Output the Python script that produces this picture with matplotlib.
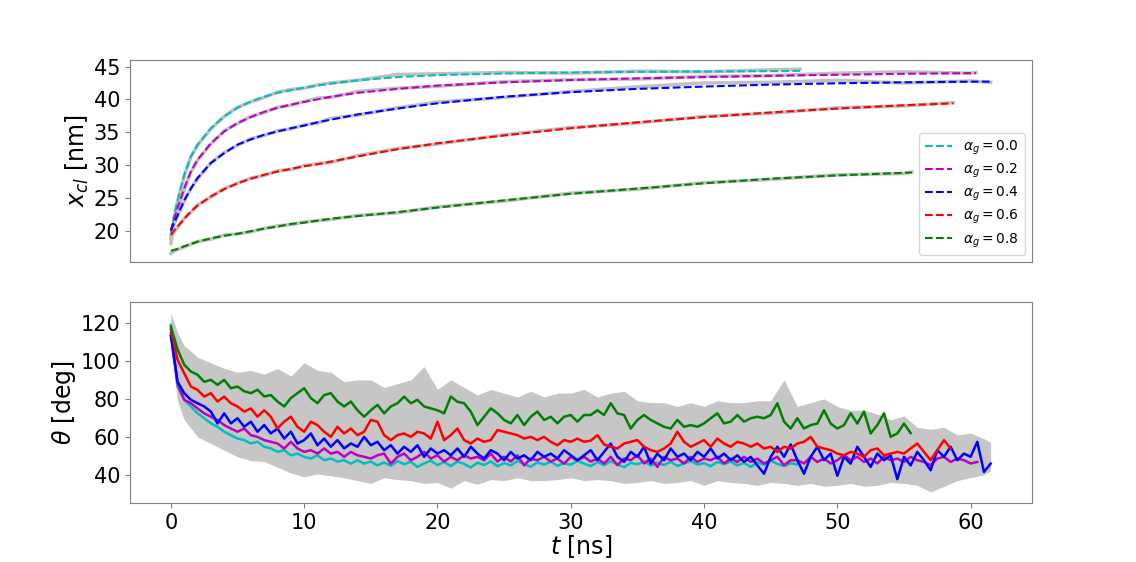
import numpy as np
import matplotlib
matplotlib.use('Agg')
import matplotlib.pyplot as plt

plot_filename = 'out.png'

alphas = ['0.0', '0.2', '0.4', '0.6', '0.8']
colors = ['c', 'm', 'b', 'r', 'g']

# ---- top panel: contact line position x_cl(t) [nm], fits (dashed) and raw (gray)
t_cyan = [0, 0.25, 0.5, 1, 1.5, 2, 3, 4, 5, 6, 7, 8, 9, 10, 11, 12, 14, 17, 20, 25, 30, 35, 40, 45, 47.2]
fit_cyan = [19.6, 22.3, 24.6, 28.5, 31.3, 33.1, 35.6, 37.4, 38.7, 39.7, 40.4, 41.0, 41.4, 41.8, 42.1, 42.4,
            42.9, 43.4, 43.7, 43.95, 44.1, 44.2, 44.25, 44.3, 44.35]
raw_cyan = [18.0, 22.0, 24.4, 28.3, 31.2, 33.0, 35.5, 37.4, 38.8, 39.6, 40.3, 41.1, 41.5, 41.7, 42.2, 42.5,
            42.9, 43.8, 43.9, 44.1, 44.0, 44.3, 44.2, 44.5, 44.6]

t_magenta = [0, 0.25, 0.5, 1, 1.5, 2, 3, 4, 5, 6, 7, 8, 9, 10, 11, 12, 14, 17, 20, 25, 30, 35, 40, 45, 50, 55, 60,
             60.4]
fit_magenta = [20.0, 21.8, 23.4, 26.4, 29.0, 30.8, 33.3, 35.1, 36.4, 37.3, 38.1, 38.7, 39.2, 39.6, 40.0, 40.4,
               41.0, 41.6, 42.1, 42.6, 42.95, 43.2, 43.4, 43.6, 43.75, 43.9, 44.0, 44.0]
raw_magenta = [19.0, 21.5, 23.2, 26.3, 28.9, 30.7, 33.2, 35.2, 36.3, 37.4, 38.0, 38.8, 39.1, 39.7, 40.2, 40.3,
               41.2, 41.7, 42.0, 42.7, 43.0, 43.1, 43.5, 43.6, 44.0, 44.2, 44.0, 44.1]

t_blue = [0, 0.25, 0.5, 1, 1.5, 2, 3, 4, 5, 6, 7, 8, 9, 10, 11, 12, 14, 17, 20, 25, 30, 35, 40, 45, 50, 55, 60,
          61.5]
fit_blue = [20.0, 21.2, 22.3, 24.6, 26.4, 28.0, 30.3, 31.8, 33.1, 33.9, 34.6, 35.1, 35.6, 36.0, 36.5, 36.9,
            37.7, 38.6, 39.4, 40.4, 41.1, 41.6, 41.95, 42.25, 42.45, 42.6, 42.7, 42.7]
raw_blue = [19.3, 21.0, 22.2, 24.5, 26.4, 27.9, 30.3, 31.9, 33.0, 34.0, 34.5, 35.2, 35.5, 36.1, 36.4, 37.1,
            37.6, 38.7, 39.6, 40.3, 41.2, 41.9, 42.5, 42.6, 42.9, 42.5, 42.8, 42.6]

t_red = [0, 0.25, 0.5, 1, 1.5, 2, 3, 4, 5, 6, 7, 8, 9, 10, 11, 12, 14, 17, 20, 25, 30, 35, 40, 45, 50, 55, 58.7]
fit_red = [19.3, 20.0, 20.6, 21.8, 22.9, 23.8, 25.2, 26.3, 27.2, 27.9, 28.5, 29.0, 29.4, 29.8, 30.1, 30.5,
           31.3, 32.4, 33.3, 34.5, 35.6, 36.5, 37.3, 38.0, 38.6, 39.1, 39.4]
raw_red = [18.8, 19.8, 20.5, 21.8, 22.8, 23.9, 25.1, 26.4, 27.2, 28.0, 28.4, 29.1, 29.3, 29.9, 30.2, 30.4,
           31.4, 32.5, 33.2, 34.6, 35.7, 36.4, 37.4, 37.9, 38.7, 39.0, 39.5]

t_green = [0, 0.25, 0.5, 1, 1.5, 2, 3, 4, 5, 6, 7, 8, 9, 10, 11, 12, 14, 17, 20, 25, 30, 35, 40, 45, 50, 55, 55.6]
fit_green = [16.9, 17.05, 17.2, 17.6, 17.95, 18.3, 18.8, 19.2, 19.5, 19.9, 20.3, 20.6, 21.0, 21.2, 21.5, 21.8,
             22.2, 22.8, 23.5, 24.6, 25.6, 26.4, 27.2, 27.9, 28.4, 28.8, 28.85]
raw_green = [16.5, 16.9, 17.1, 17.5, 17.9, 18.3, 18.7, 19.3, 19.5, 19.8, 20.3, 20.7, 20.9, 21.3, 21.5, 21.7,
             22.3, 22.7, 23.6, 24.5, 25.7, 26.3, 27.3, 27.8, 28.5, 28.7, 28.9]

# ---- bottom panel: contact angle theta(t) [deg], sampled every 0.5 ns
theta_cyan = [119, 86.5, 79.5, 76, 72.4, 69.8, 67.1, 65.3, 62.7, 60.9, 59.1, 58.3, 56.5, 57.4, 54.8, 53.9,
              52.1, 53, 50.3, 51.2, 49.5, 48.6, 50.3, 47.7, 48.6, 47, 47.7, 45.9, 47.7, 45.9, 47, 45,
              46.5, 44.8, 47.2, 45.6, 46.9, 44.2, 46.0, 47.5, 45.1, 46.8, 44.6, 47.0, 45.8, 43.9, 46.4, 45.2,
              47.1, 44.5, 46.2, 45.0, 47.3, 45.7, 44.3, 46.6, 45.4, 47.0, 44.8, 46.1, 45.3, 47.4, 45.9, 44.6,
              46.7, 45.1, 47.2, 45.5, 44.0, 46.3, 45.6, 47.1, 44.9, 46.4, 45.2, 46.9, 44.7, 46.0, 47.3, 45.4,
              46.2, 44.5, 46.8, 45.7, 47.0, 45.0, 46.3, 44.2, 46.5, 45.3, 47.4, 45.8, 44.6, 46.1, 45.5]
theta_magenta = [114.7, 88.2, 79.5, 77.7, 75, 72.4, 70.6, 68.9, 66.2, 64.4, 62.7, 64.4, 60.9, 60, 58.3, 57.4,
                 56.5, 53.9, 57.4, 53.9, 52.1, 53, 51.2, 53.9, 51.2, 52.1, 49.5, 52.1, 50.3, 49.5, 48.6, 50.3,
                 51.2, 45.9, 49.5, 51.2, 47.7, 49.5, 52.1, 48.6, 50.3, 47, 49.5, 47.7, 50.3, 48.6, 49.5, 47.7,
                 51.2, 47, 49.5, 47, 50.3, 45, 48.6, 47.7, 49.5, 47, 48.6, 45.9, 49.5, 47.7, 49.5, 47,
                 48.6, 46.0, 49.5, 45.1, 48.6, 47.7, 50.4, 46.0, 48.6, 44.2, 49.5, 47.7, 48.6, 46.0, 49.5, 46.8,
                 48.6, 47.7, 49.5, 46.0, 48.6, 46.8, 49.5, 46.8, 48.6, 46.0, 47.7, 49.5, 45.1, 47.7, 47.7, 46.0,
                 49.5, 46.8, 48.6, 46.0, 47.7, 50.4, 47.7, 49.5, 46.8, 48.6, 46.0, 49.5, 47.7, 48.6, 46.8, 49.5,
                 47.7, 46.8, 45.1, 48.6, 49.5, 46.8, 48.6, 47.7, 46.0, 46.8]
theta_blue = [113, 89.1, 83, 79.5, 77.7, 76, 73.3, 67.1, 72.4, 67.1, 69.8, 65.3, 68, 62.7, 66.2, 61.8,
              64.4, 59.1, 62.7, 56.5, 58.3, 61.8, 55.6, 59.1, 54.8, 58.3, 53.9, 56.5, 54.8, 60, 55.6, 57.4,
              53, 55.6, 51.2, 54.8, 52.1, 55.6, 49.5, 53.9, 51.2, 53, 50.3, 53.9, 49.5, 54.8, 51.2, 48.6,
              53, 51.2, 47.7, 52.1, 48.6, 50.3, 47.7, 52.1, 49.5, 51.2, 48.6, 53, 50.3, 47.7, 50.3, 53,
              47.7, 52.1, 56.5, 49.5, 46.8, 52.1, 49.5, 54.8, 45.9, 51.2, 47.7, 53.9, 49.5, 51.2, 47.7, 52.1,
              49.5, 53.9, 48.6, 51.2, 47.7, 50.3, 46.8, 49.5, 45, 40.6, 49.5, 54.8, 49.5, 56, 47.7, 40.6,
              49.5, 54.8, 47.7, 51.2, 39.5, 49.5, 45.9, 54.8, 49.5, 44.2, 51.2, 47.7, 50.3, 37.7, 49.5, 45,
              52.1, 47.7, 42.4, 53, 49.5, 54.8, 47.7, 51.2, 49.5, 57.4, 41.5, 45.9]
theta_red = [116.5, 100.6, 93.5, 86.5, 84.7, 81.2, 83, 78.6, 81.2, 77.7, 76, 73.3, 75, 70.6, 74, 70.6,
             64.4, 68, 70.6, 65.3, 62.7, 68, 66.2, 62.7, 60, 65.3, 61.8, 64.4, 60.9, 62.7, 68.9, 68,
             60.9, 58.3, 60.9, 61.8, 60, 62.7, 61.8, 59.1, 68, 58.3, 60.9, 64.4, 58.3, 56.5, 59.1, 57.4,
             58.3, 63.6, 62.7, 61.8, 60.9, 59.1, 60, 58.3, 60, 57.4, 55.6, 58.3, 57.4, 59.1, 57.4, 58,
             60.9, 56, 54.8, 53.9, 56.5, 57.4, 58.3, 54.8, 53, 52.1, 53.9, 56.5, 62.7, 57.4, 54.8, 56.5,
             58.3, 54.8, 59.1, 56.5, 54.8, 57.4, 56.5, 54.8, 56.5, 53.9, 54.8, 52.1, 54.8, 53.9, 56.5, 57.4,
             60, 54.8, 53.9, 53, 51.2, 50.3, 52.1, 51.2, 49.5, 53, 53.9, 50.3, 51.2, 52.1, 51.2, 53.9,
             56.5, 52.1, 47.7, 53, 58.3, 53.9]
theta_green = [118, 106, 98, 94.4, 92.7, 89, 90, 87.4, 90, 85.6, 86.5, 84, 83, 84.8, 81.3, 82,
               78.6, 76, 80.4, 83, 85.6, 80.4, 77.7, 82, 83, 78.6, 76, 78.6, 74, 70.6, 74, 76.8,
               72.4, 76, 77.7, 81.2, 77.7, 79.5, 76, 75, 74, 72.4, 81.2, 78.5, 77.7, 73.3, 66.2, 70.6,
               75, 72.4, 68.9, 67.1, 71.5, 66.2, 70.6, 73.3, 68.9, 70.6, 67.1, 70.6, 71.5, 68, 71.5, 71.5,
               74, 71.5, 77.7, 72.4, 71.5, 64.4, 68.9, 71.5, 68.9, 67.1, 65.3, 64.4, 68.9, 65.3, 66.2, 65.3,
               67.1, 69.8, 72.4, 67.1, 68, 71.5, 68, 69.8, 70.6, 69.8, 71.5, 77.7, 68, 64.4, 69.8, 64.4,
               66.2, 67, 74, 67, 64.4, 66.2, 72.4, 67, 73.3, 61.8, 66.2, 72.4, 60, 61.8, 67, 62]

# gray cloud of the unsmoothed angle data: upper / lower envelope
t_env = [0, 0.5, 1, 2, 3, 4, 5, 6, 7, 8, 9, 10, 11, 12, 13, 14, 15, 16, 17, 18, 19, 20, 21, 22, 23, 24, 25,
         26, 27, 28, 29, 30, 31, 32, 33, 34, 35, 36, 37, 38, 39, 40, 41, 42, 43, 44, 45, 46, 47, 48, 49, 50,
         51, 52, 53, 54, 55, 56, 57, 58, 59, 60, 61, 61.5]
env_upper = [125, 115, 108, 102, 99, 96, 94, 95, 93, 96, 92, 99, 95, 94, 89, 90, 90, 86, 88, 90, 97, 85, 90,
             86, 82, 85, 83, 81, 84, 81, 83, 83, 85, 81, 83, 84, 79, 78, 78, 76, 78, 76, 79, 78, 78, 79, 79,
             90, 76, 78, 80, 76, 74, 74, 72, 69, 71, 65, 64, 65, 61, 62, 59, 57]
env_lower = [106, 79, 69, 60, 56.5, 53, 49.5, 47.5, 47, 44, 41, 39, 40.5, 39.5, 38.5, 37, 35.5, 38.5, 37.5,
             37, 35.5, 36, 33, 37, 35, 37.5, 37, 38.5, 37, 37, 37.5, 38.5, 37, 37.5, 37, 35.5, 36, 37, 35.5,
             36, 37, 34.5, 37, 36, 35.5, 34.5, 36, 35.5, 34.5, 35.5, 34, 34.5, 35.5, 34, 34.5, 36, 35.5,
             34.5, 31, 34, 37, 38.5, 40, 42]

plt.rcParams['font.family'] = 'DejaVu Sans'
plt.rcParams['axes.edgecolor'] = '0.5'
plt.rcParams['xtick.color'] = '0.5'
plt.rcParams['ytick.color'] = '0.5'
plt.rcParams['xtick.labelcolor'] = 'black'
plt.rcParams['ytick.labelcolor'] = 'black'

fig = plt.figure(figsize=(11.36, 5.62), dpi=100)
ax1 = fig.add_axes([0.1144, 0.5338, 0.794, 0.3594])
ax2 = fig.add_axes([0.1144, 0.105, 0.794, 0.3577], sharex=ax1)

tops = [(t_cyan, fit_cyan, raw_cyan), (t_magenta, fit_magenta, raw_magenta), (t_blue, fit_blue, raw_blue),
        (t_red, fit_red, raw_red), (t_green, fit_green, raw_green)]
for (t, fit, raw), c, a in zip(tops, colors, alphas):
    ax1.plot(t, raw, '-', color='silver', lw=2.5, zorder=1)
for (t, fit, raw), c, a in zip(tops, colors, alphas):
    ax1.plot(t, fit, '--', color=c, lw=1.5, label=r'$\alpha_g = %s$' % a, zorder=2)

ax1.set_ylabel(r'$x_{cl}$ [nm]', fontsize=17, labelpad=2)
ax1.set_yticks([20, 25, 30, 35, 40, 45])
ax1.set_ylim(15.2, 46.0)
ax1.tick_params(axis='y', labelsize=15)
ax1.tick_params(axis='x', bottom=False, labelbottom=False)
ax1.legend(loc='lower right', fontsize=10, labelspacing=0.35)

ax2.fill_between(t_env, env_lower, env_upper, color='#c6c6c6', lw=0, zorder=1)
thetas = [theta_cyan, theta_magenta, theta_blue, theta_red, theta_green]
for th, c in zip(thetas, colors):
    t = 0.5 * np.arange(len(th))
    ax2.plot(t, th, '-', color=c, lw=1.8, zorder=2)

ax2.set_ylabel(r'$\theta$ [deg]', fontsize=17, labelpad=2)
ax2.set_xlabel(r'$t$ [ns]', fontsize=17, labelpad=0)
ax2.set_yticks([40, 60, 80, 100, 120])
ax2.set_ylim(25.2, 131)
ax2.set_xticks([0, 10, 20, 30, 40, 50, 60])
ax2.set_xlim(-3.07, 64.6)
ax2.tick_params(labelsize=15)

plt.savefig(plot_filename, dpi=100)
